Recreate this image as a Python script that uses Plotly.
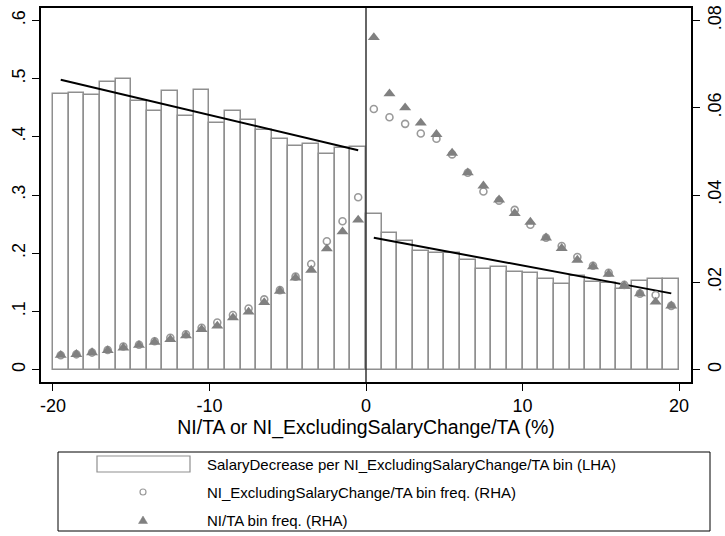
import plotly.graph_objects as go

# ---------------- data ----------------
bin_centers = [-19.5, -18.5, -17.5, -16.5, -15.5, -14.5, -13.5, -12.5, -11.5, -10.5,
               -9.5, -8.5, -7.5, -6.5, -5.5, -4.5, -3.5, -2.5, -1.5, -0.5,
               0.5, 1.5, 2.5, 3.5, 4.5, 5.5, 6.5, 7.5, 8.5, 9.5,
               10.5, 11.5, 12.5, 13.5, 14.5, 15.5, 16.5, 17.5, 18.5, 19.5]

salary_decrease = [0.474, 0.476, 0.472, 0.494, 0.500, 0.462, 0.445, 0.478, 0.436, 0.481,
                   0.423, 0.445, 0.429, 0.412, 0.396, 0.384, 0.387, 0.371, 0.380, 0.383,
                   0.267, 0.234, 0.221, 0.204, 0.200, 0.200, 0.189, 0.173, 0.176, 0.168,
                   0.166, 0.155, 0.147, 0.160, 0.151, 0.149, 0.138, 0.153, 0.156, 0.155]

ni_excl_freq = [0.0033, 0.0035, 0.0039, 0.0045, 0.0053, 0.0057, 0.0065, 0.0073, 0.0081, 0.0096,
                0.0108, 0.0125, 0.0140, 0.0161, 0.0182, 0.0213, 0.0242, 0.0294, 0.0340, 0.0395,
                0.0597, 0.0578, 0.0563, 0.0541, 0.0529, 0.0493, 0.0451, 0.0408, 0.0387, 0.0366,
                0.0332, 0.0302, 0.0283, 0.0258, 0.0238, 0.0222, 0.0194, 0.0174, 0.0171, 0.0146]

ni_freq = [0.0033, 0.0035, 0.0039, 0.0044, 0.0050, 0.0056, 0.0063, 0.0069, 0.0078, 0.0092,
           0.0100, 0.0119, 0.0132, 0.0154, 0.0180, 0.0210, 0.0228, 0.0277, 0.0316, 0.0343,
           0.0761, 0.0632, 0.0600, 0.0565, 0.0539, 0.0496, 0.0451, 0.0421, 0.0389, 0.0358,
           0.0338, 0.0302, 0.0278, 0.0251, 0.0236, 0.0219, 0.0192, 0.0174, 0.0155, 0.0146]

left_fit_x = [-19.5, -0.5]
left_fit_y = [0.498, 0.377]
right_fit_x = [0.5, 19.5]
right_fit_y = [0.2265, 0.131]

x_ticks = [-20, -10, 0, 10, 20]
x_tick_text = ["-20", "-10", "0", "10", "20"]
left_ticks = [0, 0.1, 0.2, 0.3, 0.4, 0.5, 0.6]
left_tick_text = ["0", ".1", ".2", ".3", ".4", ".5", ".6"]
right_ticks = [0, 0.02, 0.04, 0.06, 0.08]
right_tick_text = ["0", ".02", ".04", ".06", ".08"]

x_title = "NI/TA or NI_ExcludingSalaryChange/TA (%)"
legend_labels = ["SalaryDecrease per NI_ExcludingSalaryChange/TA bin (LHA)",
                 "NI_ExcludingSalaryChange/TA bin freq. (RHA)",
                 "NI/TA bin freq. (RHA)"]

# ---------------- layout geometry ----------------
W, H = 725, 536
ML, MR, MT, MB = 41, 34, 8, 154
PW, PH = W - ML - MR, H - MT - MB
FONT = "Liberation Sans, Arial, sans-serif"


def px2x(px):
    return (px - ML) / PW


def py2y(py):
    return (H - MB - py) / PH


fig = go.Figure()

fig.add_trace(go.Bar(
    x=bin_centers, y=salary_decrease, width=1.0,
    marker=dict(color="white", line=dict(color="#8f8f8f", width=1.5)),
    name=legend_labels[0], yaxis="y", showlegend=False,
))
fig.add_trace(go.Scatter(
    x=left_fit_x, y=left_fit_y, mode="lines",
    line=dict(color="black", width=2), yaxis="y", showlegend=False,
))
fig.add_trace(go.Scatter(
    x=right_fit_x, y=right_fit_y, mode="lines",
    line=dict(color="black", width=2), yaxis="y", showlegend=False,
))
fig.add_trace(go.Scatter(
    x=bin_centers, y=ni_excl_freq, mode="markers", yaxis="y2",
    marker=dict(symbol="circle-open", size=7, color="#9a9a9a", line=dict(width=1.6, color="#9a9a9a")),
    name=legend_labels[1], showlegend=False,
))
fig.add_trace(go.Scatter(
    x=bin_centers, y=ni_freq, mode="markers", yaxis="y2",
    marker=dict(symbol="triangle-up", size=10.5, color="#808080", line=dict(width=0)),
    name=legend_labels[2], showlegend=False,
))

axis_common = dict(showline=True, linecolor="black", linewidth=1.5, ticks="outside",
                   ticklen=7, tickwidth=1.2, tickcolor="black", showgrid=False,
                   zeroline=False, automargin=False,
                   tickfont=dict(family=FONT, size=18, color="black"))

fig.update_layout(
    width=W, height=H,
    margin=dict(l=ML, r=MR, t=MT, b=MB, pad=0),
    paper_bgcolor="white", plot_bgcolor="white",
    font=dict(family=FONT, color="black"),
    bargap=0,
    xaxis=dict(range=[-20.76, 20.76], tickvals=x_ticks, ticktext=x_tick_text, mirror=True,
               title=dict(text=x_title, font=dict(family=FONT, size=19.5, color="black"), standoff=2),
               **axis_common),
    yaxis=dict(range=[-0.0213, 0.6213], tickvals=left_ticks, ticktext=left_tick_text,
               tickangle=-90, mirror=True, **axis_common),
    yaxis2=dict(range=[-0.00284, 0.08284], tickvals=right_ticks, ticktext=right_tick_text,
                tickangle=-90, overlaying="y", side="right", anchor="x", **axis_common),
    showlegend=False,
)

shapes = []
# vertical reference line at x = 0
shapes.append(dict(type="line", xref="x", yref="paper", x0=0, x1=0, y0=0, y1=1,
                   line=dict(color="#333333", width=1.5), layer="above"))
# legend box
shapes.append(dict(type="rect", xref="paper", yref="paper",
                   x0=px2x(58), x1=px2x(710), y0=py2y(531), y1=py2y(452),
                   line=dict(color="black", width=1), fillcolor="white"))
# legend symbol: bar
shapes.append(dict(type="rect", xref="paper", yref="paper",
                   x0=px2x(97), x1=px2x(190), y0=py2y(472), y1=py2y(456),
                   line=dict(color="#8f8f8f", width=1.2), fillcolor="white"))
# legend symbol: hollow circle
shapes.append(dict(type="circle", xref="paper", yref="paper",
                   xsizemode="pixel", ysizemode="pixel",
                   xanchor=px2x(143), yanchor=py2y(492),
                   x0=-3, x1=3, y0=-3, y1=3,
                   line=dict(color="#9a9a9a", width=1.2)))
# legend symbol: triangle
shapes.append(dict(type="path", xref="paper", yref="paper",
                   xsizemode="pixel", ysizemode="pixel",
                   xanchor=px2x(143), yanchor=py2y(520),
                   path="M -4.5 -3.5 L 4.5 -3.5 L 0 4 Z",
                   fillcolor="#808080", line=dict(color="#808080", width=0.5)))
fig.update_layout(shapes=shapes)

annotations = []
for label, py in zip(legend_labels, [464, 492, 520]):
    annotations.append(dict(text=label, xref="paper", yref="paper",
                            x=px2x(205), y=py2y(py), xanchor="left", yanchor="middle",
                            showarrow=False, font=dict(family=FONT, size=15, color="black")))
fig.update_layout(annotations=annotations)

fig.write_html("out.html", config={"displayModeBar": False},
               post_script="document.body.style.margin='0';document.body.style.overflow='hidden';")
